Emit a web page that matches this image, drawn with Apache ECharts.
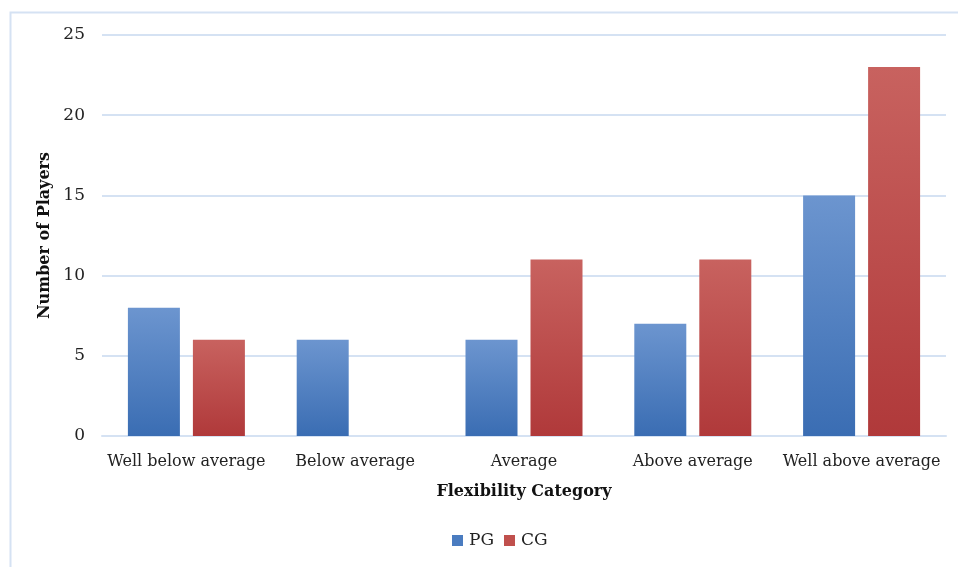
<!DOCTYPE html>
<html>
<head>
<meta charset="utf-8">
<script src="https://cdn.jsdelivr.net/npm/echarts@6/dist/echarts.min.js"></script>
<style>
  html, body { margin: 0; padding: 0; background: #fff; }
  #chart { width: 958px; height: 567px; }
</style>
</head>
<body>
<div id="chart"></div>
<script>
// Flexibility categories and player counts per group
const categories = ['Well below average', 'Below average', 'Average', 'Above average', 'Well above average'];
const pgValues = [8, 6, 6, 7, 15];
const cgValues = [6, 0, 11, 11, 23];
const yTicks = [0, 5, 10, 15, 20, 25];

const FONT = '"DejaVu Serif", serif';

function grad(top, bottom) {
  return new echarts.graphic.LinearGradient(0, 0, 0, 1, [
    { offset: 0, color: top },
    { offset: 1, color: bottom }
  ]);
}

const chart = echarts.init(document.getElementById('chart'), null, { renderer: 'canvas' });
chart.setOption({
  animation: false,
  backgroundColor: '#fff',
  graphic: [{
    type: 'rect',
    shape: { x: 10.5, y: 12.5, width: 1000, height: 1000 },
    style: { fill: 'none', stroke: '#d5e2f3', lineWidth: 2 },
    silent: true
  }],
  grid: { left: 102, right: 12, top: 35, bottom: 131, containLabel: false },
  legend: {
    data: [
      { name: 'PG', itemStyle: { color: '#4a7cc0', borderWidth: 0 } },
      { name: 'CG', itemStyle: { color: '#c0504d', borderWidth: 0 } }
    ],
    bottom: 13,
    left: 447,
    itemWidth: 11,
    itemHeight: 11,
    itemGap: 10,
    icon: 'rect',
    textStyle: { fontFamily: FONT, fontSize: 17, color: '#222', padding: [0, 0, 0, 1] }
  },
  xAxis: {
    type: 'category',
    data: categories,
    name: 'Flexibility Category',
    nameLocation: 'middle',
    nameGap: 48,
    nameTextStyle: { fontFamily: FONT, fontSize: 16, fontWeight: 'bold', color: '#111' },
    axisLine: { show: true, lineStyle: { color: '#d5e2f3', width: 2 } },
    axisTick: { show: false },
    axisLabel: { interval: 0, fontFamily: FONT, fontSize: 16, color: '#222', margin: 18 }
  },
  yAxis: {
    type: 'value',
    min: 0,
    max: 25,
    interval: 5,
    name: 'Number of Players',
    nameLocation: 'middle',
    nameGap: 47,
    nameTextStyle: { fontFamily: FONT, fontSize: 16, fontWeight: 'bold', color: '#111' },
    axisLine: { show: false },
    axisTick: { show: false },
    axisLabel: {
      fontFamily: FONT, fontSize: 17, color: '#222', margin: 17,
      formatter: v => (yTicks.includes(v) ? String(v) : '')
    },
    splitLine: { lineStyle: { color: '#d5e2f3', width: 2 } }
  },
  series: [
    {
      name: 'PG',
      type: 'bar',
      data: pgValues,
      barWidth: 52,
      barGap: '25%',
      itemStyle: { color: grad('#6c95cf', '#3a6db3') }
    },
    {
      name: 'CG',
      type: 'bar',
      data: cgValues,
      barWidth: 52,
      itemStyle: { color: grad('#c8625f', '#b0393a') }
    }
  ]
});
</script>
</body>
</html>
